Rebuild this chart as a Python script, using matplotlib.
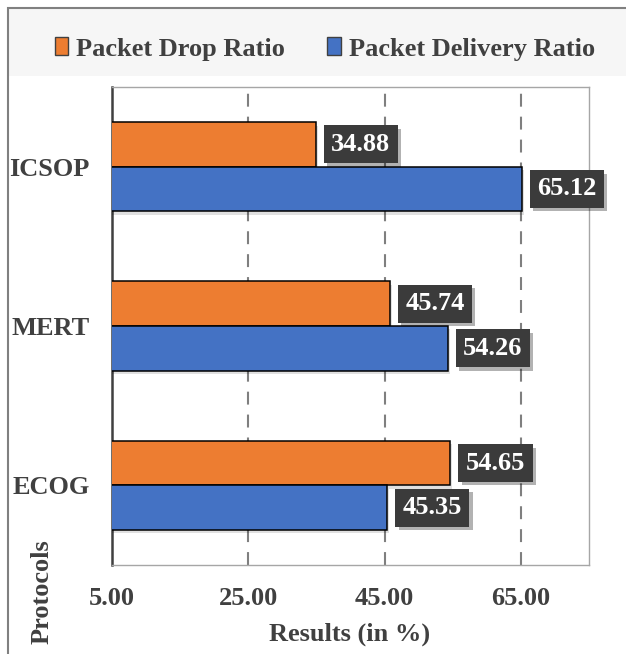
import matplotlib.pyplot as plt
import matplotlib.patheffects as pe
import numpy as np
from matplotlib.patches import Rectangle, Patch

# Protocol results (percent), bottom to top
protocols = ['ECOG', 'MERT', 'ICSOP']
drop_ratio = [54.65, 45.74, 34.88]
delivery_ratio = [45.35, 54.26, 65.12]
x_ticks = [5, 25, 45, 65]

ORANGE = '#ED7D31'
BLUE = '#4472C4'
DARK = '#404040'

plt.rcParams['font.family'] = ['Liberation Serif', 'DejaVu Serif']
plt.rcParams['font.weight'] = 'bold'

W, H = 626, 654
fig = plt.figure(figsize=(W / 100, H / 100), dpi=100)

# outer frame and shaded legend strip
fig.patches.append(Rectangle((9 / W, 1 - 76 / H), 1, 67 / H, transform=fig.transFigure,
                             facecolor='#f6f6f6', edgecolor='none', zorder=0))
fig.patches.append(Rectangle((8 / W, -0.1), 1, 1.1 - 8 / H, transform=fig.transFigure,
                             facecolor='none', edgecolor='#808080', linewidth=1.5, zorder=1))

ax = fig.add_axes([112 / W, 1 - 565 / H, 477 / W, 478 / H])

y = np.arange(len(protocols))
h = 0.28
bar_shadow = [pe.SimplePatchShadow(offset=(1.5, -2.5), shadow_rgbFace='black', alpha=0.12), pe.Normal()]
ax.barh(y + h / 2, drop_ratio, height=h, color=ORANGE, edgecolor='black', linewidth=1.1,
        zorder=3, path_effects=bar_shadow)
ax.barh(y - h / 2, delivery_ratio, height=h, color=BLUE, edgecolor='black', linewidth=1.1,
        zorder=3, path_effects=bar_shadow)

box_shadow = [pe.SimplePatchShadow(offset=(2.5, -2.5), shadow_rgbFace='black', alpha=0.3), pe.Normal()]


def value_label(v, yc):
    t = ax.annotate(f'{v:.2f}', xy=(v, yc), xytext=(11.2, 0), textcoords='offset points',
                    ha='left', va='center', fontsize=19, color='white', zorder=5,
                    bbox=dict(boxstyle='square,pad=0.28', facecolor='#3b3b3b', edgecolor='none'))
    t.get_bbox_patch().set_path_effects(box_shadow)


for yi, v in zip(y, drop_ratio):
    value_label(v, yi + h / 2)
for yi, v in zip(y, delivery_ratio):
    value_label(v, yi - h / 2)

for xv in x_ticks[1:]:
    ax.axvline(xv, color='#7f7f7f', linewidth=1.5, linestyle=(0, (6.2, 4.8)), zorder=1)

ax.set_xlim(5, 75)
ax.set_ylim(-0.5, 2.5)
ax.set_xticks(x_ticks)
ax.set_xticklabels([f'{t:.2f}' for t in x_ticks])
ax.set_yticks(y)
ax.set_yticklabels(protocols)
ax.tick_params(axis='x', length=0, pad=16, labelsize=19, labelcolor=DARK)
ax.tick_params(axis='y', length=0, pad=16, labelsize=19, labelcolor=DARK)

for side in ['top', 'right', 'bottom']:
    ax.spines[side].set_color('#a6a6a6')
    ax.spines[side].set_linewidth(1.0)
ax.spines['left'].set_color(DARK)
ax.spines['left'].set_linewidth(1.8)

fig.text(350 / W, 1 - 634 / H, 'Results (in %)', ha='center', va='center',
         fontsize=19, color=DARK)
fig.text(42 / W, 1 - 592 / H, 'Protocols', ha='center', va='center', rotation=90,
         fontsize=19, color=DARK)

handles = [Patch(facecolor=ORANGE, edgecolor=DARK, label='Packet Drop Ratio'),
           Patch(facecolor=BLUE, edgecolor=DARK, label='Packet Delivery Ratio')]
fig.legend(handles=handles, loc='center', bbox_to_anchor=(325 / W, 1 - 49 / H), ncol=2,
           frameon=False, fontsize=19, labelcolor=DARK, handlelength=0.5, handleheight=0.65,
           handletextpad=0.3, columnspacing=1.6)

fig.savefig('out.png', dpi=100)
